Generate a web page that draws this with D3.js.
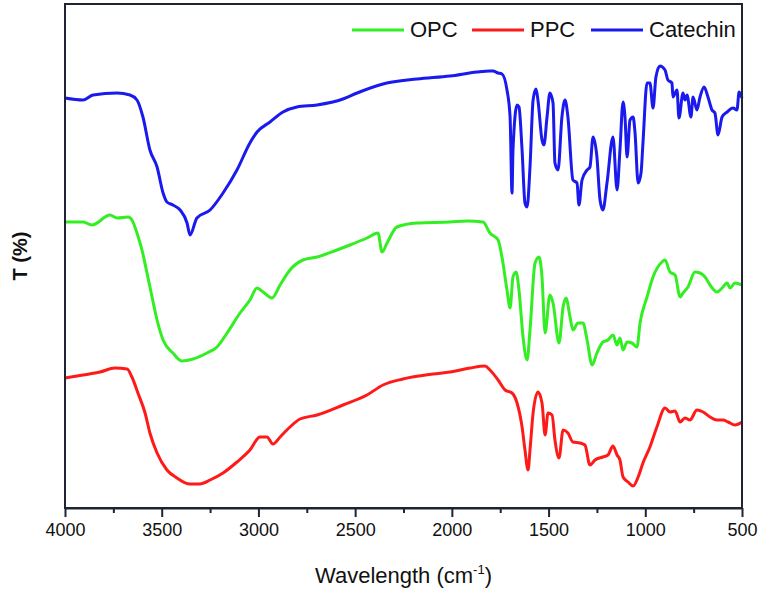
<!DOCTYPE html>
<html><head><meta charset="utf-8">
<script src="https://cdn.jsdelivr.net/npm/d3@7"></script>
<style>body{margin:0;background:#fff;}svg{display:block;font-family:Arial,"Liberation Sans",sans-serif;}</style>
</head><body>
<svg id="c" width="761" height="590"></svg>
<script>
// Tick labels
const xTicks = [4000,3500,3000,2500,2000,1500,1000,500];
const xMinorTicks = [3750,3250,2750,2250,1750,1250,750];
const seriesNames = ["OPC","PPC","Catechin"];
const seriesColors = ["#33ee22","#ff1a1a","#1a1aee"];

// Catechin (blue)
const catechinWn = [4000,3907,3855,3731,3664,3628,3597,3561,3524,3493,3473,3442,3405,3369,3354,3318,3250,3183,3111,3044,3007,2940,2873,2801,2697,2563,2490,2356,2180,2010,1870,1803,1787,1761,1741,1715,1699,1689,1684,1663,1653,1637,1622,1611,1596,1580,1565,1555,1534,1524,1508,1493,1477,1467,1451,1431,1415,1400,1374,1353,1343,1327,1301,1286,1270,1250,1234,1219,1198,1167,1146,1131,1115,1105,1094,1079,1063,1053,1037,1022,1012,991,976,960,945,924,898,883,862,857,836,826,805,795,784,764,753,733,717,696,676,655,640,624,603,577,546,526,515,500];
const catechinT = [410,408,413,415,413,408,391,358,341,315,306,303,298,285,273,290,298,315,338,365,376,386,396,401,403,409,415,424,429,432,436,437,437,435,434,418,391,315,358,403,401,358,305,301,341,408,419,408,368,363,391,415,405,345,338,391,408,391,328,325,303,328,338,341,371,351,308,298,325,371,318,358,406,391,351,388,391,375,325,335,365,425,425,400,431,442,438,428,425,411,418,390,415,408,413,391,411,398,411,421,411,398,395,373,391,396,400,398,416,410];

// OPC (green)
const opcWn = [4000,3907,3860,3767,3731,3674,3654,3628,3602,3576,3550,3524,3493,3442,3395,3338,3266,3214,3162,3095,3044,3007,2976,2930,2888,2837,2770,2697,2594,2527,2439,2382,2361,2335,2284,2180,2010,1922,1839,1803,1761,1741,1715,1699,1684,1668,1653,1632,1611,1596,1570,1549,1534,1518,1493,1477,1446,1425,1410,1389,1374,1348,1322,1301,1275,1250,1219,1193,1167,1146,1131,1115,1094,1069,1043,1027,991,960,914,898,872,846,820,805,779,743,717,691,665,629,603,577,562,536,500];
const opcT = [286,286,283,293,290,291,288,275,258,235,211,188,168,155,147,149,155,161,175,195,208,220,216,210,223,238,248,251,258,263,270,275,256,265,281,285,286,287,286,275,268,251,218,200,231,236,218,171,148,178,245,251,231,175,213,205,165,201,210,191,178,185,185,168,143,155,166,168,173,163,170,158,166,165,161,185,211,231,246,248,236,233,211,215,221,236,235,231,223,216,220,225,220,225,223];

// PPC (red)
const ppcWn = [4000,3907,3819,3742,3679,3654,3623,3586,3561,3524,3473,3421,3354,3302,3250,3183,3111,3044,2992,2956,2925,2888,2837,2785,2697,2563,2439,2356,2253,2097,2010,1906,1829,1803,1761,1725,1689,1663,1637,1622,1606,1596,1580,1555,1534,1518,1503,1482,1467,1446,1425,1400,1374,1338,1312,1286,1260,1219,1193,1167,1146,1131,1115,1089,1063,1037,1012,976,940,898,872,846,820,795,769,733,701,665,629,598,572,536,500];
const ppcT = [130,133,136,140,139,131,115,95,75,55,38,30,24,24,28,35,46,58,71,71,64,71,81,89,93,103,113,123,129,134,136,140,142,138,128,118,115,105,81,58,38,58,95,116,105,73,95,93,68,50,78,75,66,65,63,43,48,51,53,62,53,48,31,26,22,31,45,61,81,100,96,97,86,90,88,98,96,91,88,88,86,83,86];

const svg = d3.select("#c");
const L = 65, R = 742, T = 4, B = 508;
const x = d3.scaleLinear().domain([4000,500]).range([L,R]);
const y = d3.scaleLinear().domain([0,504]).range([B,T]);

const series = [
  {wn: opcWn, t: opcT, color: seriesColors[0]},
  {wn: ppcWn, t: ppcT, color: seriesColors[1]},
  {wn: catechinWn, t: catechinT, color: seriesColors[2]}
];
const line = d3.line().x(d=>x(d[0])).y(d=>y(d[1])).curve(d3.curveMonotoneX);
series.forEach(s=>{
  svg.append("path").datum(d3.zip(s.wn, s.t))
    .attr("d", line).attr("fill","none").attr("stroke", s.color)
    .attr("stroke-width", 3).attr("stroke-linejoin","round");
});

// frame
const axCol = "#1e2433";
svg.append("rect").attr("x",L).attr("y",T).attr("width",R-L).attr("height",B-T)
  .attr("fill","none").attr("stroke",axCol).attr("stroke-width",2);

// bottom axis
const gx = svg.append("g").attr("transform",`translate(0,${B})`)
  .call(d3.axisBottom(x).tickValues(xTicks).tickFormat(d3.format("d")).tickSize(9).tickSizeOuter(0).tickPadding(6));
gx.select(".domain").attr("stroke",axCol).attr("stroke-width",2);
gx.selectAll(".tick line").attr("stroke",axCol).attr("stroke-width",2);
gx.selectAll(".tick text").attr("font-size",18).attr("fill","#111")
  .attr("font-family","Arial, 'Liberation Sans', sans-serif");
const gm = svg.append("g").attr("transform",`translate(0,${B})`)
  .call(d3.axisBottom(x).tickValues(xMinorTicks).tickFormat("").tickSize(5).tickSizeOuter(0));
gm.select(".domain").remove();
gm.selectAll(".tick line").attr("stroke",axCol).attr("stroke-width",2);

// axis titles
const xt = svg.append("text").attr("x",(L+R)/2).attr("y",583).attr("text-anchor","middle")
  .attr("font-size",22).attr("fill","#111");
xt.append("tspan").text("Wavelength (cm");
xt.append("tspan").attr("font-size",13).attr("dy",-9).text("-1");
xt.append("tspan").attr("dy",9).text(")");

svg.append("text").attr("transform",`translate(27,${(T+B)/2}) rotate(-90)`)
  .attr("text-anchor","middle").attr("font-size",20).attr("font-weight","bold").attr("fill","#111").text("T (%)");

// legend
const legX = [352,472,591];
seriesNames.forEach((n,i)=>{
  svg.append("line").attr("x1",legX[i]).attr("x2",legX[i]+52).attr("y1",30).attr("y2",30)
    .attr("stroke",seriesColors[i]).attr("stroke-width",3);
  svg.append("text").attr("x",legX[i]+58).attr("y",37).attr("font-size",22).attr("fill","#111").text(n);
});
</script>
</body></html>
